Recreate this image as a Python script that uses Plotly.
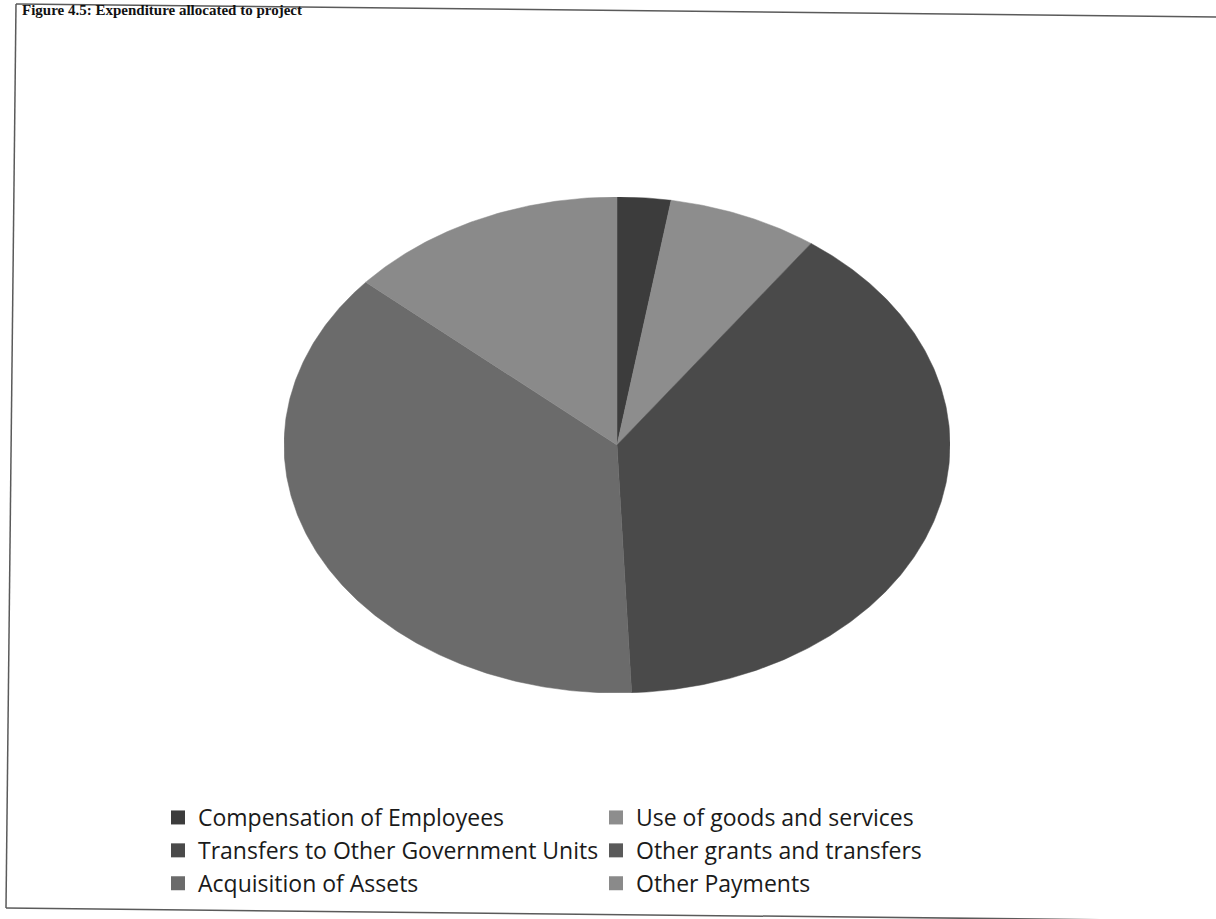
import numpy as np
import plotly.graph_objects as go

# ---- data (share of total in %) ----
categories = [
    "Compensation of Employees",
    "Use of goods and services",
    "Transfers to Other Government Units",
    "Other grants and transfers",
    "Acquisition of Assets",
    "Other Payments",
]
values = [2.6, 7.3, 39.4, 0.0, 37.1, 13.6]
colors = ["#3c3c3c", "#8d8d8d", "#4a4a4a", "#5a5a5a", "#6b6b6b", "#8a8a8a"]
header = "Figure 4.5: Expenditure allocated to project"

W, H = 1216, 919

def px(x):
    return x / W

def py(y):
    return 1 - y / H

# ellipse placement (pixels)
cx, cy, rx, ry = 617, 445, 333, 248

fig = go.Figure()

total = float(sum(values))
start = 0.0
for name, v, c in zip(categories, values, colors):
    frac = v / total
    if frac > 0:
        n = max(3, int(frac * 720))
        th = np.linspace(start, start + frac * 2 * np.pi, n)
        xs = np.concatenate([[0.0], np.sin(th), [0.0]])
        ys = np.concatenate([[0.0], np.cos(th), [0.0]])
        fig.add_trace(go.Scatter(
            x=xs, y=ys, mode="lines", fill="toself", fillcolor=c,
            line=dict(color=c, width=0.5), name=name, showlegend=False,
            hoverinfo="name", hoveron="fills",
        ))
    start += frac * 2 * np.pi

# legend entries (square keys)
for name, c in zip(categories, colors):
    fig.add_trace(go.Scatter(
        x=[None], y=[None], mode="markers", name=name,
        marker=dict(symbol="square", size=14, color=c),
    ))

shape_line = dict(color="#5a5a5a", width=1.5)
fig.update_layout(
    width=W, height=H,
    margin=dict(l=0, r=0, t=0, b=0),
    paper_bgcolor="white", plot_bgcolor="white",
    xaxis=dict(range=[-1, 1], domain=[px(cx - rx), px(cx + rx)],
               visible=False, fixedrange=True),
    yaxis=dict(range=[-1, 1], domain=[py(cy + ry), py(cy - ry)],
               visible=False, fixedrange=True),
    legend=dict(
        orientation="h", x=px(158), y=py(796), xanchor="left", yanchor="top",
        entrywidth=393, entrywidthmode="pixels",
        font=dict(family="Open Sans", size=23, color="#1a1a1a"),
        bgcolor="rgba(0,0,0,0)", traceorder="normal",
    ),
    shapes=[
        dict(type="line", xref="paper", yref="paper",
             x0=px(16), y0=py(4), x1=px(1216), y1=py(17), line=shape_line),
        dict(type="line", xref="paper", yref="paper",
             x0=px(16), y0=py(4), x1=px(6), y1=py(908), line=shape_line),
        dict(type="line", xref="paper", yref="paper",
             x0=px(6), y0=py(908), x1=px(1216), y1=py(921), line=shape_line),
    ],
    annotations=[
        dict(text="<b>" + header + "</b>", xref="paper", yref="paper",
             x=px(20), y=1.0, xanchor="left", yanchor="top",
             showarrow=False,
             font=dict(family="Liberation Serif", size=15, color="#111")),
    ],
)

fig.write_html("out.html", config={"displayModeBar": False},
               post_script="document.body.style.margin='0';")
